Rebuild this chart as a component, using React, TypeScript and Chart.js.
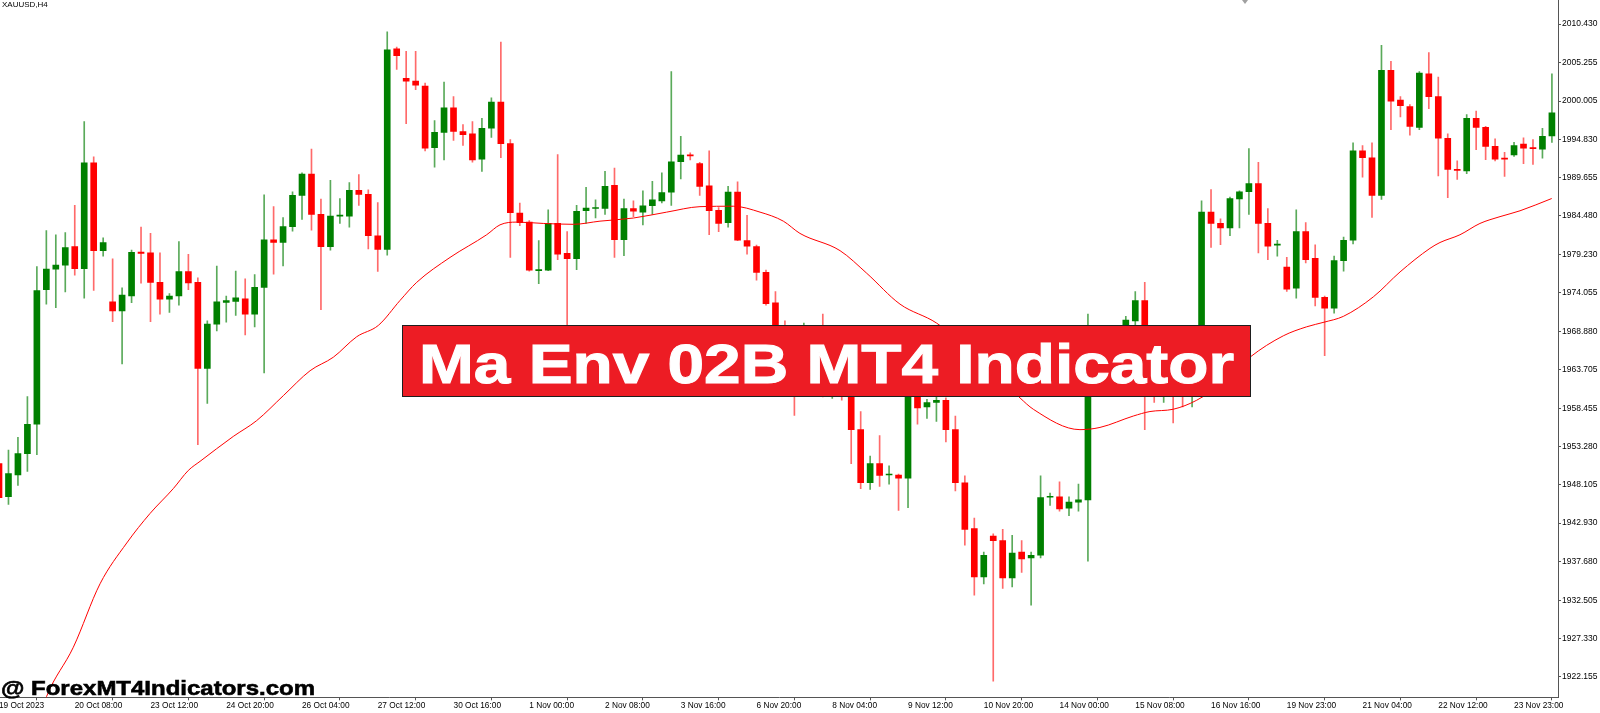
import React, { useEffect, useLayoutEffect, useRef } from "react";
import { Chart, registerables } from "chart.js";

Chart.register(...registerables);

const symbolLabel = "XAUUSD,H4";
const bannerText = "Ma Env 02B MT4 Indicator";
const watermarkText = "@ ForexMT4Indicators.com";

const dateLabels = [
  "19 Oct 2023", "20 Oct 08:00", "23 Oct 12:00", "24 Oct 20:00", "26 Oct 04:00",
  "27 Oct 12:00", "30 Oct 16:00", "1 Nov 00:00", "2 Nov 08:00", "3 Nov 16:00",
  "6 Nov 20:00", "8 Nov 04:00", "9 Nov 12:00", "10 Nov 20:00", "14 Nov 00:00",
  "15 Nov 08:00", "16 Nov 16:00", "19 Nov 23:00", "21 Nov 04:00", "22 Nov 12:00",
  "23 Nov 23:00",
];

const priceTicks = [
  2010.43, 2005.255, 2000.005, 1994.83, 1989.655, 1984.48, 1979.23, 1974.055, 1968.88,
  1963.705, 1958.455, 1953.28, 1948.105, 1942.93, 1937.68, 1932.505, 1927.33, 1922.155,
];

const opens = [
  1950.97, 1946.49, 1949.44, 1952.32, 1956.30, 1974.51, 1977.27, 1977.82, 1980.33, 1977.33,
  1991.67, 1979.78, 1972.85, 1971.63, 1973.65, 1979.60, 1979.47, 1975.49, 1973.22, 1973.65,
  1976.96, 1975.49, 1963.84, 1969.85, 1972.79, 1972.91, 1973.28, 1971.20, 1974.81, 1981.25,
  1980.88, 1983.03, 1987.26, 1990.14, 1984.68, 1980.33, 1984.44, 1984.44, 1987.93, 1987.38,
  1981.80, 1979.96, 2007.06, 2003.07, 2002.71, 2002.03, 1993.70, 1995.78, 1999.09, 1995.90,
  1995.59, 1992.16, 1996.33, 1999.89, 1994.25, 1984.87, 1983.64, 1977.08, 1977.14, 1983.46,
  1979.41, 1978.68, 1985.17, 1985.48, 1985.48, 1988.61, 1981.25, 1985.48, 1984.99, 1985.85,
  1986.52, 1987.69, 1991.80, 1992.72, 1991.55, 1988.55, 1985.24, 1983.58, 1987.69, 1981.13,
  1980.33, 1976.84, 1972.73, 1968.60, 1966.00, 1961.80, 1966.50, 1963.80, 1961.00, 1962.50,
  1960.30, 1955.57, 1948.39, 1950.97, 1949.44, 1949.44, 1949.01, 1962.90, 1958.63, 1959.24,
  1959.55, 1955.57, 1948.39, 1942.20, 1935.64, 1941.16, 1940.55, 1935.52, 1939.01, 1938.22,
  1938.58, 1946.43, 1946.49, 1944.96, 1945.76, 1946.07, 1967.30, 1965.00, 1966.20, 1968.00,
  1970.28, 1973.04, 1964.50, 1962.20, 1964.00, 1961.50, 1960.60, 1963.50, 1984.99, 1983.46,
  1982.85, 1986.77, 1987.75, 1988.85, 1983.46, 1980.52, 1977.57, 1974.69, 1982.36, 1978.74,
  1973.47, 1972.00, 1978.43, 1981.19, 1993.27, 1992.35, 1987.26, 2004.18, 2000.13, 1999.27,
  1996.45, 2003.69, 2000.62, 1994.98, 1990.75, 1990.57, 1997.68, 1996.45, 1993.88, 1992.28,
  1992.72, 1994.19, 1993.70, 1993.51, 1995.29,
];

const highs = [
  1951.09, 1952.81, 1954.53, 1960.04, 1977.64, 1982.48, 1981.93, 1982.23, 1985.91, 1997.25,
  1992.47, 1981.50, 1978.68, 1974.75, 1979.84, 1982.97, 1982.11, 1979.47, 1973.96, 1981.01,
  1979.29, 1976.10, 1970.28, 1977.70, 1973.65, 1977.02, 1975.98, 1976.53, 1987.32, 1985.73,
  1984.26, 1987.75, 1990.32, 1993.51, 1986.77, 1989.28, 1986.83, 1988.97, 1990.08, 1987.99,
  1986.28, 2009.39, 2007.30, 2006.75, 2006.75, 2002.46, 1997.37, 2002.58, 2000.62, 1996.82,
  1997.25, 1997.68, 2000.44, 2007.98, 1994.80, 1986.22, 1983.83, 1981.13, 1985.30, 1992.78,
  1982.36, 1985.91, 1988.36, 1986.65, 1990.51, 1990.94, 1986.77, 1986.52, 1987.87, 1989.16,
  1990.32, 2003.99, 1995.23, 1993.02, 1991.73, 1993.27, 1985.60, 1988.48, 1989.10, 1984.56,
  1980.52, 1977.14, 1974.26, 1970.28, 1967.20, 1969.97, 1968.00, 1971.20, 1964.50, 1963.50,
  1961.00, 1958.02, 1952.01, 1954.77, 1950.66, 1949.56, 1963.80, 1963.50, 1959.67, 1960.04,
  1959.86, 1957.41, 1949.32, 1943.61, 1939.01, 1941.47, 1942.08, 1941.28, 1940.55, 1939.01,
  1949.32, 1946.99, 1948.52, 1946.49, 1948.21, 1971.20, 1968.60, 1967.20, 1969.00, 1970.89,
  1974.26, 1975.49, 1966.00, 1965.50, 1965.20, 1962.50, 1964.00, 1986.52, 1988.05, 1984.07,
  1987.01, 1987.87, 1993.57, 1991.73, 1985.48, 1981.19, 1978.86, 1985.30, 1983.58, 1980.58,
  1973.65, 1979.04, 1981.62, 1994.37, 1994.00, 1994.37, 2007.55, 2005.40, 2000.62, 1999.52,
  2003.99, 2006.57, 2003.26, 1995.59, 1991.92, 1998.17, 1998.66, 1996.58, 1994.92, 1993.08,
  1994.43, 1995.04, 1994.80, 1996.33, 2003.69,
];

const lows = [
  1946.07, 1945.45, 1948.03, 1949.93, 1952.17, 1972.55, 1972.06, 1974.20, 1976.47, 1973.34,
  1974.39, 1979.04, 1970.16, 1964.46, 1972.73, 1975.37, 1970.16, 1971.20, 1971.44, 1972.42,
  1974.51, 1953.54, 1959.12, 1968.93, 1970.10, 1971.01, 1968.38, 1969.48, 1963.23, 1976.59,
  1977.70, 1982.42, 1984.01, 1982.54, 1971.81, 1979.84, 1983.46, 1982.97, 1985.91, 1980.03,
  1976.96, 1979.17, 2004.30, 1996.94, 2001.54, 1993.27, 1991.06, 1992.04, 1994.68, 1994.00,
  1991.73, 1990.51, 1995.10, 1992.35, 1978.86, 1983.15, 1977.02, 1975.31, 1977.08, 1978.55,
  1967.50, 1977.20, 1983.46, 1984.19, 1984.68, 1978.86, 1979.11, 1984.38, 1983.27, 1984.68,
  1986.22, 1985.91, 1989.47, 1992.04, 1987.26, 1981.93, 1982.36, 1982.97, 1981.13, 1979.29,
  1975.80, 1972.42, 1967.80, 1965.00, 1957.50, 1960.80, 1962.50, 1960.00, 1959.80, 1959.55,
  1950.97, 1947.60, 1947.47, 1947.90, 1948.21, 1944.65, 1945.02, 1956.30, 1957.10, 1956.67,
  1953.91, 1947.29, 1939.94, 1933.19, 1934.72, 1921.55, 1934.11, 1934.30, 1936.26, 1931.84,
  1938.22, 1945.33, 1944.53, 1943.92, 1944.53, 1937.79, 1963.50, 1962.80, 1964.80, 1966.50,
  1968.80, 1955.57, 1959.24, 1959.24, 1956.49, 1958.63, 1958.63, 1962.80, 1980.21, 1980.58,
  1981.80, 1982.85, 1984.68, 1979.47, 1978.55, 1979.04, 1974.26, 1973.34, 1978.13, 1972.30,
  1965.56, 1971.32, 1977.02, 1980.70, 1989.71, 1984.26, 1986.71, 1996.15, 1997.86, 1995.41,
  1996.15, 1998.97, 1989.90, 1986.95, 1989.40, 1990.20, 1993.45, 1992.10, 1991.92, 1989.83,
  1992.53, 1991.55, 1991.43, 1992.28, 1994.43,
];

const closes = [
  1946.37, 1949.62, 1952.32, 1956.30, 1974.39, 1977.27, 1977.82, 1980.21, 1977.33, 1991.67,
  1979.78, 1980.88, 1971.63, 1973.77, 1979.54, 1979.41, 1975.49, 1973.22, 1973.65, 1976.96,
  1975.43, 1963.84, 1969.85, 1972.85, 1973.04, 1973.41, 1971.20, 1974.81, 1981.25, 1980.88,
  1983.03, 1987.26, 1990.14, 1984.68, 1980.33, 1984.44, 1984.56, 1987.93, 1987.38, 1981.80,
  1979.96, 2006.94, 2006.14, 2002.71, 2002.15, 1993.63, 1995.78, 1999.09, 1995.90, 1995.47,
  1992.04, 1996.33, 1999.89, 1994.25, 1984.93, 1983.58, 1977.14, 1977.20, 1983.46, 1979.29,
  1978.68, 1985.11, 1985.54, 1985.60, 1988.48, 1981.25, 1985.48, 1985.11, 1985.85, 1986.65,
  1987.63, 1991.80, 1992.72, 1992.59, 1988.48, 1985.17, 1983.46, 1987.69, 1981.19, 1980.39,
  1976.84, 1972.61, 1968.60, 1966.00, 1961.80, 1966.50, 1963.80, 1961.00, 1962.50, 1960.30,
  1955.57, 1948.39, 1950.97, 1949.38, 1949.56, 1949.01, 1962.90, 1958.51, 1959.24, 1959.55,
  1955.57, 1948.39, 1942.08, 1935.64, 1938.58, 1940.55, 1935.52, 1938.89, 1938.10, 1938.58,
  1946.37, 1946.55, 1944.84, 1945.76, 1946.07, 1967.30, 1965.00, 1966.20, 1968.00, 1970.40,
  1973.04, 1964.50, 1962.20, 1964.00, 1961.50, 1960.60, 1963.50, 1984.99, 1983.46, 1982.85,
  1986.83, 1987.75, 1988.85, 1983.46, 1980.39, 1980.64, 1974.57, 1982.36, 1978.55, 1973.47,
  1972.00, 1978.43, 1981.19, 1993.27, 1992.35, 1987.26, 2004.18, 2000.01, 1999.40, 1996.58,
  2003.81, 2000.62, 1994.98, 1990.75, 1990.63, 1997.68, 1996.45, 1993.88, 1992.16, 1992.16,
  1994.00, 1993.63, 1993.57, 1995.23, 1998.42,
];

// moving average line, sampled at (bar index, price)
const maBar = [
  4.5, 5.03, 7.85, 10.67, 13.49, 15.95, 18.41, 19.99, 21.23, 24.74, 27.21, 30.03, 32.85, 35.31,
  37.77, 40.06, 42.35, 44.11, 47.63, 51.5, 52.91, 54.67, 57.48, 60.65, 63.47, 66.99, 70.51,
  74.03, 77.55, 80.37, 82.83, 84.59, 88.82, 91.64, 95.15, 99.03, 103.6, 107.83, 109.23,
  114.16, 116.27, 119.79, 121.55, 124.01, 126.49, 129.3, 132.11, 135.63, 138.1, 139.93,
  141.97, 145.14, 147.96, 151.12, 152.18, 154.29, 156.4, 158.52, 160.63, 163.98,
];
const maPrice = [
  1917.4, 1919.5, 1926.14, 1934.72, 1940.24, 1944.23, 1947.6, 1950.05, 1951.28, 1954.65, 1956.79,
  1960.17, 1963.54, 1965.37, 1968.13, 1969.67, 1973.04, 1975.49, 1978.86, 1981.93, 1983.27,
  1983.64, 1983.46, 1983.34, 1983.77, 1984.19, 1984.99, 1985.73, 1985.79, 1984.99, 1983.77,
  1982.11, 1979.78, 1976.72, 1972.55, 1969.97, 1965.07, 1959.86, 1958.33, 1955.57, 1955.87,
  1957.41, 1958.02, 1958.33, 1959.55, 1962.0, 1965.37, 1968.26, 1969.48, 1970.1, 1970.89,
  1973.53, 1976.9, 1980.09, 1980.88, 1981.93, 1983.46, 1984.38, 1985.17, 1986.83,
];

const BAR_PX = 9.469;
const PLOT_RIGHT = 1558;
const PLOT_BOTTOM = 697.3;
const X_MIN = 1 / BAR_PX;
const X_MAX = (PLOT_RIGHT + 1) / BAR_PX;
const Y_MIN = 1919.37;
const Y_MAX = 2013.68;

const FONT = "'Liberation Sans', Arial, sans-serif";

function FitText(props: { text: string; width: number; style: React.CSSProperties }) {
  const ref = useRef<HTMLSpanElement>(null);
  useLayoutEffect(() => {
    const fit = () => {
      const el = ref.current;
      if (!el) return;
      el.style.transform = "none";
      const w = el.getBoundingClientRect().width;
      if (w > 0) el.style.transform = `scaleX(${props.width / w})`;
    };
    fit();
    if ((document as any).fonts && (document as any).fonts.ready) {
      (document as any).fonts.ready.then(fit);
    }
  }, [props.text, props.width]);
  return (
    <span
      ref={ref}
      style={{
        position: "absolute",
        display: "inline-block",
        whiteSpace: "nowrap",
        transformOrigin: "left center",
        ...props.style,
      }}
    >
      {props.text}
    </span>
  );
}

export default function App() {
  const canvasRef = useRef<HTMLCanvasElement>(null);

  useEffect(() => {
    document.body.style.margin = "0";
    const canvas = canvasRef.current;
    if (!canvas) return;
    const up = opens.map((o, i) => closes[i] > o);
    const wickData = opens.map((_, i) => ({ x: i, y: [lows[i], highs[i]] }));
    const bodyData = opens.map((o, i) => ({ x: i, y: [o, closes[i]] }));
    const maData = maBar.map((x, i) => ({ x, y: maPrice[i] }));

    const chart = new Chart(canvas, {
      type: "bar",
      data: {
        datasets: [
          {
            type: "line",
            data: maData as any,
            borderColor: "#ff0000",
            borderWidth: 1,
            pointRadius: 0,
            cubicInterpolationMode: "monotone",
            order: 0,
          } as any,
          {
            type: "bar",
            data: bodyData as any,
            backgroundColor: up.map((u) => (u ? "#008000" : "#ff0000")),
            barThickness: 6,
            grouped: false,
            minBarLength: 1,
            borderWidth: 0,
            order: 1,
          } as any,
          {
            type: "bar",
            data: wickData as any,
            backgroundColor: up.map((u) => (u ? "#5aaa5a" : "#ff6a6a")),
            barThickness: 1,
            grouped: false,
            borderWidth: 0,
            order: 2,
          } as any,
        ],
      },
      options: {
        animation: false,
        responsive: false,
        devicePixelRatio: 1,
        events: [],
        layout: { padding: 0 },
        plugins: { legend: { display: false }, tooltip: { enabled: false } },
        scales: {
          x: {
            type: "linear",
            min: X_MIN,
            max: X_MAX,
            offset: false,
            position: "bottom",
            grid: { drawOnChartArea: false, drawTicks: true, tickLength: 3, color: "#555", lineWidth: 1 },
            border: { display: true, color: "#555", width: 1 },
            ticks: {
              autoSkip: false,
              maxRotation: 0,
              minRotation: 0,
              align: "start",
              padding: 0,
              color: "#000",
              font: { family: FONT, size: 8.3 },
              callback: (v: any) => dateLabels[Math.round(Number(v) / 8)] ?? "",
            },
            afterBuildTicks: (s: any) => {
              s.ticks = dateLabels.map((_, k) => ({ value: k * 8 }));
            },
            afterFit: (s: any) => {
              s.height = 713 - PLOT_BOTTOM;
              s.paddingLeft = 0;
              s.paddingRight = 0;
            },
          },
          y: {
            type: "linear",
            position: "right",
            min: Y_MIN,
            max: Y_MAX,
            grid: { drawOnChartArea: false, drawTicks: true, tickLength: 3, color: "#555", lineWidth: 1 },
            border: { display: true, color: "#555", width: 1 },
            ticks: {
              padding: 1,
              color: "#000",
              font: { family: FONT, size: 8.5 },
              callback: (v: any) => Number(v).toFixed(3),
            },
            afterBuildTicks: (s: any) => {
              s.ticks = priceTicks.map((v) => ({ value: v }));
            },
            afterFit: (s: any) => {
              s.width = 1600 - PLOT_RIGHT;
              s.paddingTop = 0;
              s.paddingBottom = 0;
            },
          },
        },
      } as any,
    });
    return () => chart.destroy();
  }, []);

  return (
    <div
      style={{
        position: "fixed",
        left: 0,
        top: 0,
        width: 1600,
        height: 713,
        background: "#ffffff",
        overflow: "hidden",
      }}
    >
      <canvas ref={canvasRef} width={1600} height={713} style={{ position: "absolute", left: 0, top: 0, width: 1600, height: 713 }} />
      <div
        style={{
          position: "absolute",
          left: 2,
          top: 0,
          fontFamily: FONT,
          fontSize: 8,
          lineHeight: "10px",
          color: "#000",
          whiteSpace: "nowrap",
        }}
      >
        {symbolLabel}
      </div>
      <div
        style={{
          position: "absolute",
          left: 1242,
          top: 0,
          width: 0,
          height: 0,
          borderLeft: "3px solid transparent",
          borderRight: "3px solid transparent",
          borderTop: "4px solid #a0a0a0",
        }}
      />
      <div
        style={{
          position: "absolute",
          left: 402,
          top: 325,
          width: 849,
          height: 72,
          boxSizing: "border-box",
          background: "#ed1c24",
          border: "1.5px solid #1e1e1e",
        }}
      />
      <FitText
        text={bannerText}
        width={815}
        style={{
          left: 419,
          top: 336,
          fontFamily: FONT,
          fontWeight: 700,
          fontSize: 56,
          lineHeight: "56px",
          color: "#ffffff",
          WebkitTextStroke: "1px #ffffff",
        }}
      />
      <FitText
        text={watermarkText}
        width={314}
        style={{
          left: 1,
          top: 676.5,
          fontFamily: FONT,
          fontWeight: 700,
          fontSize: 21,
          lineHeight: "21px",
          color: "#000000",
          WebkitTextStroke: "0.6px #000000",
        }}
      />
    </div>
  );
}
